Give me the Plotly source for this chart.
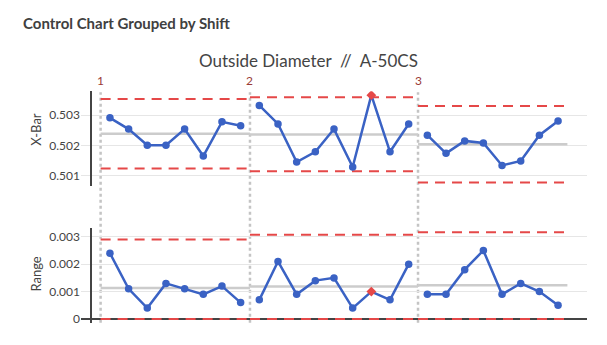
import plotly.graph_objects as go

# Subgroup data: one entry per sample, grouped by shift
shift_names = ["1", "2", "3"]
shift_of_sample = [1] * 8 + [2] * 9 + [3] * 8
samples = list(range(1, len(shift_of_sample) + 1))

xbar = [0.50291, 0.50254, 0.50201, 0.50201, 0.50254, 0.50165, 0.50278, 0.50265,
        0.50332, 0.50271, 0.50145, 0.50179, 0.50254, 0.50129, 0.50366, 0.50179, 0.50271,
        0.50234, 0.50174, 0.50215, 0.50208, 0.50134, 0.50149, 0.50234, 0.50281]
ranges = [0.0024, 0.0011, 0.0004, 0.0013, 0.0011, 0.0009, 0.0012, 0.0006,
          0.0007, 0.0021, 0.0009, 0.0014, 0.0015, 0.0004, 0.0010, 0.0007, 0.0020,
          0.0009, 0.0009, 0.0018, 0.0025, 0.0009, 0.0013, 0.0010, 0.0005]

# Control limits per shift
xbar_cl = [0.50239, 0.50236, 0.50204]
xbar_ucl = [0.50353, 0.50359, 0.50330]
xbar_lcl = [0.50124, 0.50115, 0.50078]
range_cl = [0.00113, 0.00119, 0.00123]
range_ucl = [0.00290, 0.00307, 0.00316]
range_lcl = [0.0, 0.0, 0.0]

# Out-of-control subgroups
flagged = [15]

BLUE = "#3a62c4"
RED = "#e54848"
GRAY_CL = "#cccccc"
TEXT = "#444444"
FONT = "Lato"
H = 345.0

fig = go.Figure()

def add_panel(values, cl, ucl, lcl, xa, ya):
    for i, name in enumerate(shift_names):
        sid = i + 1
        xs = [s for s, sh in zip(samples, shift_of_sample) if sh == sid]
        ys = [v for v, sh in zip(values, shift_of_sample) if sh == sid]
        x0, x1 = xs[0] - 0.5, xs[-1] + 0.5
        # center line
        fig.add_trace(go.Scatter(x=[x0, x1], y=[cl[i], cl[i]], mode="lines",
                                 line=dict(color=GRAY_CL, width=2.5),
                                 xaxis=xa, yaxis=ya, hoverinfo="skip", showlegend=False))
        # control limits
        for lim in (ucl[i], lcl[i]):
            fig.add_trace(go.Scatter(x=[x0, x1], y=[lim, lim], mode="lines",
                                     line=dict(color=RED, width=2, dash="10px,7px"),
                                     xaxis=xa, yaxis=ya, hoverinfo="skip", showlegend=False))
        colors = [RED if s in flagged else BLUE for s in xs]
        symbols = ["diamond" if s in flagged else "circle" for s in xs]
        fig.add_trace(go.Scatter(x=xs, y=ys, mode="lines+markers",
                                 line=dict(color=BLUE, width=2.5),
                                 marker=dict(color=colors, symbol=symbols, size=7.5),
                                 xaxis=xa, yaxis=ya, showlegend=False))

add_panel(xbar, xbar_cl, xbar_ucl, xbar_lcl, "x", "y")
add_panel(ranges, range_cl, range_ucl, range_lcl, "x2", "y2")

x_dom = [81 / 607, 587 / 607]
x_rng = [-0.55, 26.55]
axis_x = dict(domain=x_dom, range=x_rng, showgrid=False, showticklabels=False,
              zeroline=True, zerolinecolor=TEXT, zerolinewidth=1.5, showline=False, ticks="")
axis_y = dict(showgrid=True, gridcolor="#e6e6e6", gridwidth=1, showline=False, ticks="",
              tickfont=dict(family=FONT, size=12, color=TEXT))

fig.update_layout(
    width=607, height=345,
    margin=dict(l=0, r=0, t=0, b=0),
    paper_bgcolor="white", plot_bgcolor="white",
    font=dict(family=FONT, color=TEXT),
    xaxis=dict(axis_x, anchor="y"),
    xaxis2=dict(axis_x, anchor="y2", matches="x"),
    yaxis=dict(axis_y, domain=[1 - 188 / H, 1 - 92 / H], range=[0.50065, 0.50379],
               tickvals=[0.501, 0.502, 0.503], ticktext=["0.501", "0.502", "0.503"],
               zeroline=False, anchor="x"),
    yaxis2=dict(axis_y, domain=[1 - 326 / H, 1 - 230.5 / H], range=[-0.00015, 0.0033],
                tickvals=[0, 0.001, 0.002, 0.003], ticktext=["0", "0.001", "0.002", "0.003"],
                zeroline=True, zerolinecolor=TEXT, zerolinewidth=1.5, anchor="x2"),
)

# Shift boundary markers spanning both panels
for i, name in enumerate(shift_names):
    first = min(s for s, sh in zip(samples, shift_of_sample) if sh == i + 1)
    fig.add_shape(type="line", xref="x", yref="paper", x0=first - 0.5, x1=first - 0.5,
                  y0=1 - 325.5 / H, y1=1 - 93 / H,
                  line=dict(color="#c4c4c4", width=2.5, dash="dot"), layer="below")
    fig.add_annotation(x=first - 0.5, y=1 - 81 / H, xref="x", yref="paper",
                       text=name, showarrow=False, xanchor="center", yanchor="middle",
                       font=dict(family=FONT, size=12, color="#9a3b36"))

fig.add_annotation(x=21 / 607, y=1 - 23 / H, xref="paper", yref="paper",
                   text="<b>Control Chart Grouped by Shift</b>", showarrow=False,
                   xanchor="left", yanchor="middle",
                   font=dict(family=FONT, size=15, color="#404040"))
fig.add_annotation(x=308 / 607, y=1 - 61 / H, xref="paper", yref="paper",
                   text="Outside Diameter  //  A-50CS", showarrow=False,
                   xanchor="center", yanchor="middle",
                   font=dict(family=FONT, size=17, color=TEXT))
fig.add_annotation(x=36 / 607, y=1 - 131 / H, xref="paper", yref="paper",
                   text="X-Bar", showarrow=False, textangle=-90,
                   xanchor="center", yanchor="middle",
                   font=dict(family=FONT, size=13, color=TEXT))
fig.add_annotation(x=36 / 607, y=1 - 277 / H, xref="paper", yref="paper",
                   text="Range", showarrow=False, textangle=-90,
                   xanchor="center", yanchor="middle",
                   font=dict(family=FONT, size=13, color=TEXT))

fig.write_html("out.html")
